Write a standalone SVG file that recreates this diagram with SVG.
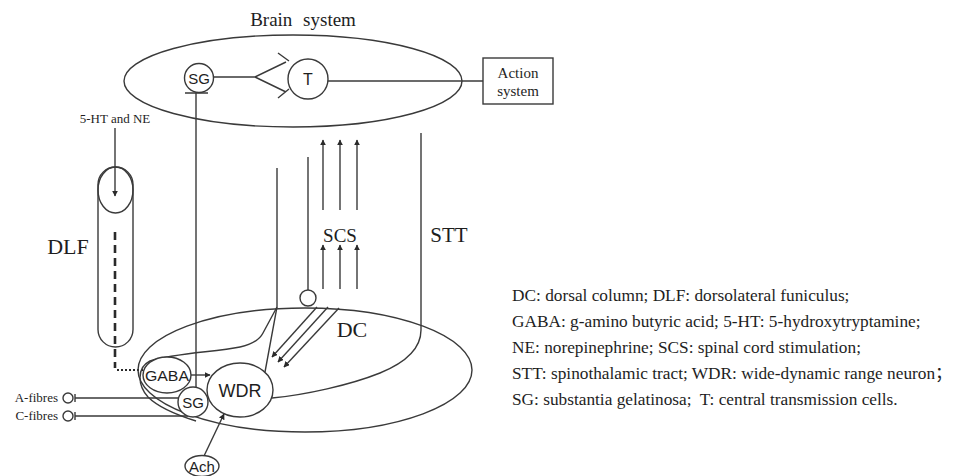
<svg xmlns="http://www.w3.org/2000/svg" width="970" height="476" viewBox="0 0 970 476" style="overflow:hidden">
<style>
.ln{fill:none;stroke:#3a3a3a;stroke-width:1.4}
.nd{fill:#fff;stroke:#3a3a3a;stroke-width:1.4}
.sf{font-family:"Liberation Serif","Times New Roman","Noto Sans CJK SC",serif;fill:#1e1e1e}
.ss{font-family:"Liberation Sans",Arial,sans-serif;fill:#1e1e1e}
</style>
<defs>
<marker id="ah" viewBox="0 0 10 10" refX="9" refY="5" markerWidth="6" markerHeight="6" markerUnits="userSpaceOnUse" orient="auto"><path d="M0,0 L10,5 L0,10 z" fill="#2a2a2a"/></marker>
</defs>
<rect width="970" height="476" fill="#fff"/>

<g id="brain-system">
<ellipse cx="293" cy="81" rx="169" ry="46" class="ln"/>
<text x="303" y="26" class="sf" font-size="19" text-anchor="middle" word-spacing="6">Brain system</text>
</g>

<g id="connectors">
<path class="ln" d="M213,77 L255,77 L286,62 M278,53 L289,61 M255,77 L286,92 M278,98 L289,89"/>
<path class="ln" d="M328,81 L483,81"/>
<path class="ln" d="M185,93 L208,93 M196,93 L196,388"/>
<path class="ln" d="M115,128 L115,196" marker-end="url(#ah)"/>
<path d="M115,232 L115,368" fill="none" stroke="#2a2a2a" stroke-width="2.6" stroke-dasharray="8,5"/>
<path d="M117,370 L144,370" fill="none" stroke="#2a2a2a" stroke-width="2.2" stroke-dasharray="2,2"/>
<path class="ln" d="M277,168 L277,307 L265,372"/>
<path class="ln" d="M277,307 L263,333 Q258,343 240,347 C215,352 175,353 150,361 C136,368 138,386 148,397 C158,407 180,416 196,421"/>
<path class="ln" d="M308,157 L308,290"/>
<path class="ln" d="M421,133 L421,330 C421,350 402,364 380,373 C350,385 305,395 272,398"/>
<path class="ln" d="M323,210 L323,140" marker-end="url(#ah)"/>
<path class="ln" d="M340,210 L340,140" marker-end="url(#ah)"/>
<path class="ln" d="M357,210 L357,140" marker-end="url(#ah)"/>
<path class="ln" d="M323,289 L323,245" marker-end="url(#ah)"/>
<path class="ln" d="M340,289 L340,245" marker-end="url(#ah)"/>
<path class="ln" d="M357,289 L357,245" marker-end="url(#ah)"/>
<path class="ln" d="M317,307 L272,357" marker-end="url(#ah)"/>
<path class="ln" d="M328,307 L278,362" marker-end="url(#ah)"/>
<path class="ln" d="M339,308 L284,367" marker-end="url(#ah)"/>
<path class="ln" d="M190,375 L210,375" marker-end="url(#ah)"/>
<path class="ln" d="M75,398 L180,398 M75,394 L75,402"/>
<path class="ln" d="M75,416 L188,416 M75,412 L75,420"/>
<path class="ln" d="M204,456 L224,414" marker-end="url(#ah)"/>
</g>

<g id="dc-ellipse">
<ellipse cx="305" cy="370" rx="167" ry="62" class="ln"/>
<text x="352" y="337" class="sf" font-size="22" text-anchor="middle">DC</text>
</g>

<g id="sg-top">
<circle cx="199" cy="78" r="14.5" class="nd"/>
<text x="199" y="83.5" class="ss" font-size="15" text-anchor="middle">SG</text>
</g>

<g id="t-cell">
<circle cx="308" cy="79" r="20" class="nd"/>
<text x="308" y="85" class="ss" font-size="16" text-anchor="middle">T</text>
</g>

<g id="action-system">
<rect x="483" y="58" width="70" height="46" class="nd"/>
<text x="518" y="78" class="sf" font-size="15" text-anchor="middle">Action</text>
<text x="518" y="96" class="sf" font-size="15" text-anchor="middle">system</text>
</g>

<g id="nt-label">
<text x="115" y="123" class="sf" font-size="13" text-anchor="middle">5-HT and NE</text>
</g>

<g id="dlf">
<rect x="98" y="167" width="35" height="180" rx="17.5" class="ln"/>
<ellipse cx="115.5" cy="190" rx="17.5" ry="23" class="ln"/>
<text x="68" y="254" class="sf" font-size="22" text-anchor="middle">DLF</text>
</g>

<g id="stim-column">
<circle cx="308" cy="298" r="8" class="nd"/>
</g>

<g id="labels">
<text x="340" y="242" class="sf" font-size="19" text-anchor="middle">SCS</text>
<text x="449" y="242" class="sf" font-size="21" text-anchor="middle">STT</text>
</g>

<g id="gaba">
<ellipse cx="167" cy="375" rx="24" ry="18" class="nd"/>
<text x="167" y="381" class="ss" font-size="15" text-anchor="middle" textLength="44" lengthAdjust="spacingAndGlyphs">GABA</text>
</g>

<g id="wdr">
<ellipse cx="240" cy="390" rx="33" ry="27" class="nd"/>
<text x="240" y="397" class="ss" font-size="18" text-anchor="middle">WDR</text>
</g>

<g id="sg-bottom">
<circle cx="193" cy="402" r="15" class="nd"/>
<text x="193" y="408" class="ss" font-size="15" text-anchor="middle">SG</text>
</g>

<g id="a-fibres">
<circle cx="68" cy="398" r="5" class="nd"/>
<text x="58" y="402" class="sf" font-size="13" text-anchor="end">A-fibres</text>
</g>

<g id="c-fibres">
<circle cx="68" cy="416" r="5" class="nd"/>
<text x="58" y="420" class="sf" font-size="13" text-anchor="end">C-fibres</text>
</g>

<g id="ach">
<ellipse cx="202" cy="466" rx="17" ry="10.5" class="nd"/>
<text x="202" y="472" class="ss" font-size="15" text-anchor="middle">Ach</text>
</g>

<g id="legend">
<text x="512" y="301" class="sf" font-size="17.3">DC: dorsal column; DLF: dorsolateral funiculus;</text>
<text x="512" y="327" class="sf" font-size="17.3">GABA: g-amino butyric acid; 5-HT: 5-hydroxytryptamine;</text>
<text x="512" y="353" class="sf" font-size="17.3">NE: norepinephrine; SCS: spinal cord stimulation;</text>
<text x="512" y="379" class="sf" font-size="17.3">STT: spinothalamic tract; WDR: wide-dynamic range neuron；</text>
<text x="512" y="405" class="sf" font-size="17.3" xml:space="preserve">SG: substantia gelatinosa;  T: central transmission cells.</text>
</g>
</svg>
